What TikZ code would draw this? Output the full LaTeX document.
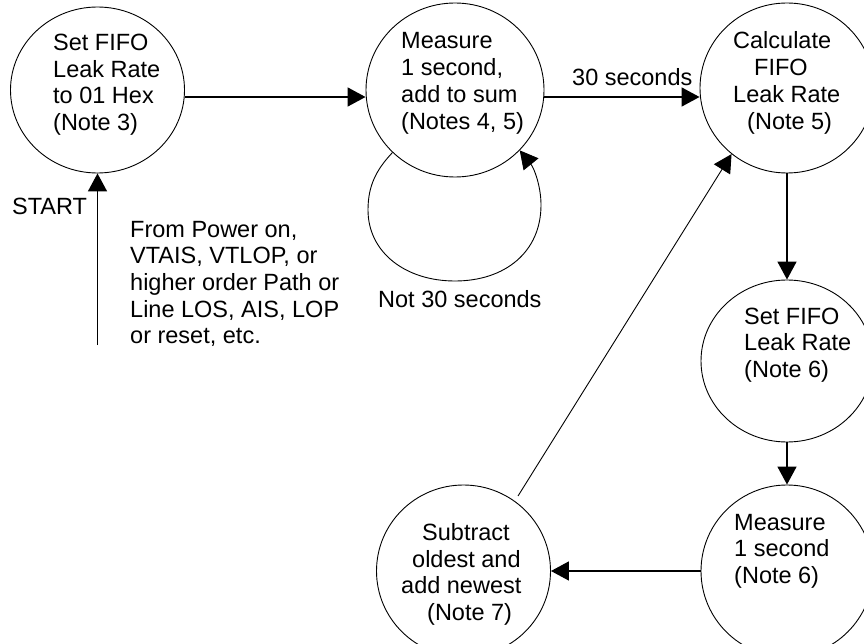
\documentclass[tikz,border=0pt]{standalone}
\usepackage{fontspec}
\setmainfont{Liberation Sans}
\usetikzlibrary{shapes.geometric,arrows.meta}
\begin{document}
\begin{tikzpicture}[x=1pt,y=-1pt,
  state/.style={draw, ellipse, line width=0.9pt, inner sep=0pt},
  txt/.style={anchor=base west, inner sep=0pt, font=\fontsize{23.5}{26.7}\selectfont},
  arr/.style={line width=1.6pt, -{Triangle[length=18pt,width=19pt]}},
  thinarr/.style={line width=0.9pt, -{Triangle[length=18pt,width=19pt]}}]
\useasboundingbox (0,0) rectangle (864,644);
\fill[white] (0,0) rectangle (864,644);
\clip (0,0) rectangle (864,644);

% states
\node[state, minimum width=174pt, minimum height=166pt] (c1) at (97.5,90) {};
\node[state, minimum width=178pt, minimum height=174pt] (c2) at (455,90) {};
\node[state, minimum width=174pt, minimum height=170pt] (c3) at (787,88) {};
\node[state, minimum width=172pt, minimum height=162pt] (c4) at (787,361) {};
\node[state, minimum width=172pt, minimum height=172pt] (c5) at (787,571) {};
\node[state, minimum width=174pt, minimum height=172pt] (c6) at (463.5,571) {};

% texts of c1
\node[txt] (t1a) at (53,50.5) {Set FIFO};
\node[txt] (t1b) at (53,77.2) {Leak Rate};
\node[txt] (t1c) at (53,103.9) {to 01 Hex};
\node[txt] (t1d) at (53,130.6) {(Note 3)};
% texts of c2
\node[txt] (t2a) at (401,49) {Measure};
\node[txt] (t2b) at (401,75.7) {1 second,};
\node[txt] (t2c) at (401,102.4) {add to sum};
\node[txt] (t2d) at (401,129.1) {(Notes 4, 5)};
% texts of c3
\node[txt] (t3a) at (733,49) {Calculate};
\node[txt] (t3b) at (754,75.7) {FIFO};
\node[txt] (t3c) at (733,102.4) {Leak Rate};
\node[txt] (t3d) at (747,129.1) {(Note 5)};
% texts of c4
\node[txt] (t4a) at (744,324) {Set FIFO};
\node[txt] (t4b) at (744,350.7) {Leak Rate};
\node[txt] (t4c) at (744,377.4) {(Note 6)};
% texts of c5
\node[txt] (t5a) at (734,530) {Measure};
\node[txt] (t5b) at (734,556.7) {1 second};
\node[txt] (t5c) at (734,583.4) {(Note 6)};
% texts of c6
\node[txt] (t6a) at (422,540.5) {Subtract};
\node[txt] (t6b) at (412,567.2) {oldest and};
\node[txt] (t6c) at (401,593.9) {add newest};
\node[txt] (t6d) at (427,620.6) {(Note 7)};

% labels
\node[txt] (lstart) at (12,215) {START};
\node[txt] (f1) at (130,237) {From Power on,};
\node[txt] (f2) at (130,263.7) {VTAIS, VTLOP, or};
\node[txt] (f3) at (130,290.4) {higher order Path or};
\node[txt] (f4) at (130,317.1) {Line LOS, AIS, LOP};
\node[txt] (f5) at (130,343.8) {or reset, etc.};
\node[txt] (l30) at (572,86) {30 seconds};
\node[txt] (lnot) at (378,307) {Not 30 seconds};

% connectors
\coordinate (s0) at (97.5,345);
\draw[arr] (s0) -- (c1.south);
\draw[arr] ([yshift=-7pt]c1.east) -- ([yshift=-7pt]c2.west);
\draw[arr] ([yshift=-7pt]c2.east) -- ([yshift=-9pt]c3.west);
\draw[arr] (c3.south) -- (c4.north);
\draw[arr] (c4.south) -- (c5.north);
\draw[arr] (c5.west) -- (c6.east);
\coordinate (d0) at (518,496);
\draw[thinarr] (d0) -- (c3.230);
\draw[thinarr] (c2.225) .. controls (376,170) and (368,186) .. (368,210)
  .. controls (368,252) and (405,281) .. (455,281)
  .. controls (505,281) and (541,252) .. (541,205)
  .. controls (541,186) and (534,168) .. (c2.317);
\end{tikzpicture}
\end{document}
